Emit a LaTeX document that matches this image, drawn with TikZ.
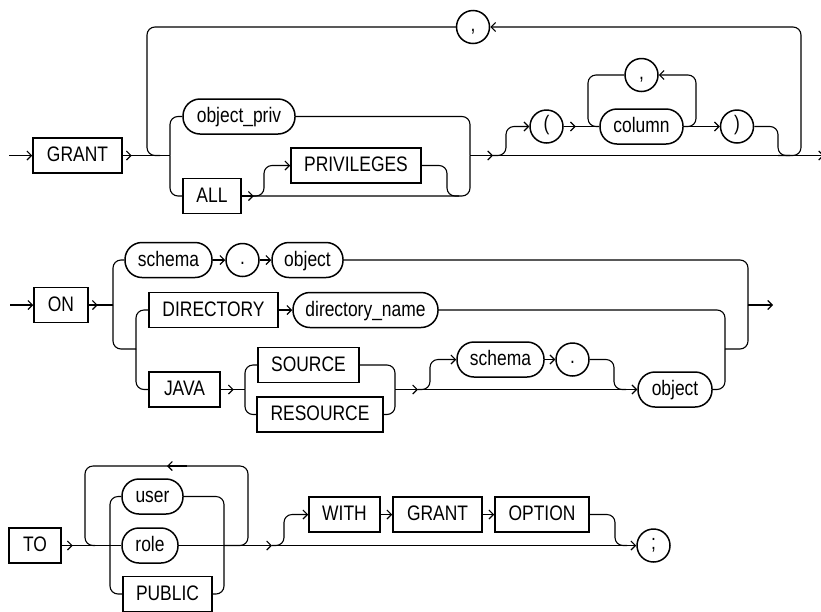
\documentclass[tikz,border=0pt]{standalone}
\usepackage{fontspec}
\setmainfont{Liberation Sans}[FakeStretch=0.83]
\usetikzlibrary{arrows.meta,calc,positioning}

\begin{document}
\begin{tikzpicture}[x=1pt,y=-1pt,font=\fontsize{21}{24}\selectfont,
  kw/.style={draw,line width=1.5pt,minimum height=35pt,inner sep=0pt,text height=12pt,text depth=0pt},
  ident/.style={kw,rounded corners=17pt},
  sym/.style={draw,circle,line width=1.5pt,minimum size=33pt,inner sep=0pt,text height=8pt,text depth=0pt},
  rail/.style={line width=1.1pt,rounded corners=8pt},
  tip/.style={rail,-{Straight Barb[length=4.5pt,width=9pt]}}]
\useasboundingbox (0,0) rectangle (821,611);
% GRANT ... privileges
\node[kw,minimum width=89pt] (grant) at (77.5,155.5) {GRANT};
\node[ident,minimum width=112pt] (objpriv) at (239,116.5) {object\_priv};
\node[kw,minimum width=58pt] (all) at (212,196) {ALL};
\node[kw,minimum width=130pt] (privs) at (356,165.5) {PRIVILEGES};
\node[sym] (comma1) at (473,27) {,};
\node[sym] (lpar) at (546.5,126.5) {(};
\node[ident,minimum width=83pt] (column) at (641.5,126.5) {column};
\node[sym] (comma2) at (641.5,75) {,};
\node[sym] (rpar) at (737,126.5) {)};
\coordinate (s1) at (9,155.5);
\coordinate (j1) at (170,155.5);
\coordinate (l0) at (147,155.5);
\coordinate (b1) at (264,165.5);
\coordinate (p1) at (447,196);
\coordinate (k1) at (470,155.5);
\coordinate (m1) at (493,155.5);
\coordinate (b2) at (506,126.5);
\coordinate (c1) at (588,126.5);
\coordinate (c2) at (696,75);
\coordinate (u1) at (778,155.5);
\coordinate (l1) at (801,27);
\coordinate (e1) at (824,155.5);
\draw[tip] (s1) -- (grant.west);
\draw[tip] (grant.east) -- ++(9,0);
\draw[rail] (grant.east) -- (j1);
\draw[rail] (j1) |- (objpriv.west);
\draw[rail] (j1) |- (all.west);
\draw[rail] (objpriv.east) -| (k1);
\draw[rail] (all.east) -| (k1);
\draw[tip] (all.east) -- ++(12,0);
\draw[tip] (all.east) -| (b1) -- (privs.west);
\draw[rail] (privs.east) -| (p1) -- ++(12,0);
\draw[rail] (comma1.west) -| (l0) -- ++(13,0);
\draw[tip] (u1) -| (l1) -- (comma1.east);
\draw[tip] (k1) -- (m1);
\draw[tip] (k1) -- (e1);
\draw[tip] (m1) -| (b2) -- (lpar.west);
\draw[tip] (lpar.east) -- ++(12,0);
\draw[rail] (lpar.east) -- (column.west);
\draw[rail] (comma2.west) -| (c1) -- (column.west);
\draw[tip] (column.east) -| (c2) -- (comma2.east);
\draw[tip] (column) -- (rpar);
\draw[rail] (rpar.east) -| (u1) -- ++(12,0);
% ON ...
\node[kw,minimum width=54pt] (on) at (61,305) {ON};
\node[ident,minimum width=87pt] (schema1) at (168.5,260) {schema};
\node[sym] (dot1) at (242.5,260) {.};
\node[ident,minimum width=71pt] (object1) at (307.5,260) {object};
\node[kw,minimum width=129pt] (directory) at (213.5,310) {DIRECTORY};
\node[ident,minimum width=145pt] (dirname) at (365.5,310) {directory\_name};
\node[kw,minimum width=71pt] (java) at (184.5,389.5) {JAVA};
\node[kw,minimum width=101pt] (source) at (308.5,365) {SOURCE};
\node[kw,minimum width=126pt] (resource) at (320,414.5) {RESOURCE};
\node[ident,minimum width=87pt] (schema2) at (500.5,359.5) {schema};
\node[sym] (dot2) at (572.5,359.5) {.};
\node[ident,minimum width=74pt] (object2) at (675,389.5) {object};
\coordinate (s2) at (10,305);
\coordinate (j2) at (113,305);
\coordinate (j3) at (136,349);
\coordinate (k3) at (725,349);
\coordinate (k2) at (748,305);
\coordinate (e2) at (773,305);
\coordinate (j4) at (245,389.5);
\coordinate (k4) at (395,389.5);
\coordinate (m4) at (418,389.5);
\coordinate (b4) at (430,359.5);
\coordinate (d4) at (614,389.5);
\draw[tip] (s2) -- (on.west);
\draw[tip] (on.east) -- ++(9,0);
\draw[rail] (on.east) -- (j2);
\draw[rail] (j2) |- (schema1.west);
\draw[rail] (j2) |- (j3);
\draw[rail] (j3) |- (directory.west);
\draw[rail] (j3) |- (java.west);
\foreach \a/\b in {schema1/dot1,dot1/object1,directory/dirname,schema2/dot2}
  \draw[tip] (\a) -- (\b);
\draw[rail] (object1.east) -| (k2);
\draw[rail] (dirname.east) -| (k3);
\draw[rail] (object2.east) -| (k3);
\draw[rail] (k3) -| (k2);
\draw[tip] (k2) -- (e2);
\draw[tip] (java.east) -- ++(13,0);
\draw[rail] (java.east) -- (j4);
\draw[rail] (j4) |- (source.west);
\draw[rail] (j4) |- (resource.west);
\draw[rail] (source.east) -| (k4);
\draw[rail] (resource.east) -| (k4);
\draw[tip] (k4) -- (m4);
\draw[tip] (k4) -- (object2.west);
\draw[tip] (m4) -| (b4) -- (schema2.west);
\draw[rail] (dot2.east) -| (d4) -- ++(12,0);
% TO ...
\node[kw,minimum width=52pt] (to) at (35,545.5) {TO};
\node[ident,minimum width=61pt] (user) at (152.5,496.5) {user};
\node[ident,minimum width=56pt] (role) at (150,545.5) {role};
\node[kw,minimum width=89pt] (public) at (167.5,594) {PUBLIC};
\node[kw,minimum width=71pt] (with) at (344.5,514.5) {WITH};
\node[kw,minimum width=89pt] (grant2) at (437.5,514.5) {GRANT};
\node[kw,minimum width=94pt] (option) at (542,514.5) {OPTION};
\node[sym] (semi) at (653.5,545.5) {;};
\coordinate (j5) at (110,545.5);
\coordinate (k5) at (224,545.5);
\coordinate (r5) at (248,466);
\coordinate (l5) at (85,545.5);
\coordinate (a5) at (167,466);
\coordinate (m6) at (272,545.5);
\coordinate (b6) at (284,514.5);
\coordinate (d6) at (615,545.5);
\draw[tip] (to.east) -- ++(11,0);
\draw[rail] (to.east) -- (role.west);
\draw[rail] (j5) |- (user.west);
\draw[rail] (j5) |- (public.west);
\draw[rail] (user.east) -| (k5);
\draw[rail] (public.east) -| (k5);
\draw[rail] (k5) -| (r5) -| (l5) -- ++(10,0);
\draw[tip] ([xshift=20pt]a5) -- (a5);
\draw[tip] (role.east) -- (m6);
\draw[tip] (m6) -- (semi.west);
\draw[tip] (m6) -| (b6) -- (with.west);
\draw[tip] (with) -- (grant2);
\draw[tip] (grant2) -- (option);
\draw[rail] (option.east) -| (d6) -- ++(12,0);
\end{tikzpicture}
\end{document}
